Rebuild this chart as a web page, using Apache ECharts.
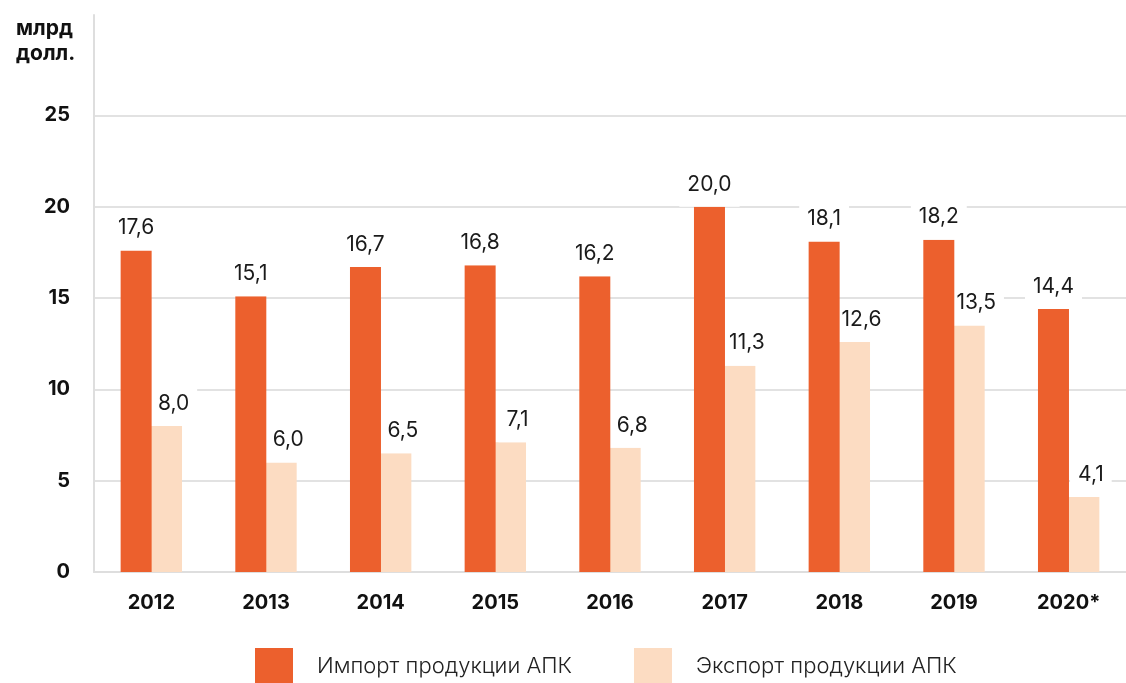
<!DOCTYPE html>
<html><head><meta charset="utf-8">
<script src="https://cdn.jsdelivr.net/npm/echarts@6/dist/echarts.min.js"></script>
<style>html,body{margin:0;padding:0;background:#fff}#c{width:1126px;height:683px}</style>
</head><body><div id="c"></div>
<script>
const categories = ['2012','2013','2014','2015','2016','2017','2018','2019','2020*'];
const importValues = [17.6,15.1,16.7,16.8,16.2,20.0,18.1,18.2,14.4];
const exportValues = [8.0,6.0,6.5,7.1,6.8,11.3,12.6,13.5,4.1];
const yTicks = [0,5,10,15,20,25];
const seriesNames = ['Импорт продукции АПК','Экспорт продукции АПК'];
const unitLabel = 'млрд\nдолл.';

const FONT = 'Inter, "Noto Sans", sans-serif';
const fmt = v => v.toFixed(1).replace('.', ',');
const chart = echarts.init(document.getElementById('c'));
const labelCfg = {
  show: true, position: 'top', distance: 0,
  formatter: p => fmt(p.value),
  fontFamily: FONT, fontSize: 21, color: '#1a1a1a',
  backgroundColor: '#fff', padding: [9, 8, 12, 8]
};
chart.setOption({
  animation: false,
  title: {
    text: unitLabel, left: 11, top: 11,
    textStyle: { fontFamily: FONT, fontWeight: 'bold', fontSize: 21, color: '#111', lineHeight: 25 }
  },
  grid: { left: 94, right: -4, top: 15, bottom: 111 },
  legend: {
    bottom: -1, left: 255, padding: 0, itemWidth: 38, itemHeight: 36, itemGap: 62,
    icon: 'rect',
    textStyle: { fontFamily: FONT, fontSize: 22, fontWeight: 300, color: '#222', padding: [0,0,0,19] },
    data: seriesNames
  },
  xAxis: {
    type: 'category', data: categories,
    axisLine: { lineStyle: { color: '#dedede', width: 2 } },
    axisTick: { show: false },
    axisLabel: { fontFamily: FONT, fontWeight: 'bold', fontSize: 20, color: '#111', margin: 21 }
  },
  yAxis: {
    type: 'value', min: 0, max: 30.5, interval: 5,
    axisLine: { show: true, lineStyle: { color: '#dedede', width: 2 } },
    axisTick: { show: false },
    splitLine: { lineStyle: { color: ['#e2e2e2','#e2e2e2','#e2e2e2','#e2e2e2','#e2e2e2','#e2e2e2','rgba(0,0,0,0)','rgba(0,0,0,0)'], width: 2 } },
    axisLabel: {
      fontFamily: FONT, fontWeight: 'bold', fontSize: 20, color: '#111', margin: 24,
      formatter: v => yTicks.includes(v) ? String(v) : ''
    }
  },
  series: [
    { name: seriesNames[0], type: 'bar', data: importValues, barWidth: 31, barGap: '-2%', z: 4,
      itemStyle: { color: '#EC602D' }, label: labelCfg },
    { name: seriesNames[1], type: 'bar', data: exportValues, barWidth: 31, z: 2,
      itemStyle: { color: '#FCDCC2' }, label: Object.assign({}, labelCfg, { offset: [7, 0] }) }
  ]
});
</script></body></html>
